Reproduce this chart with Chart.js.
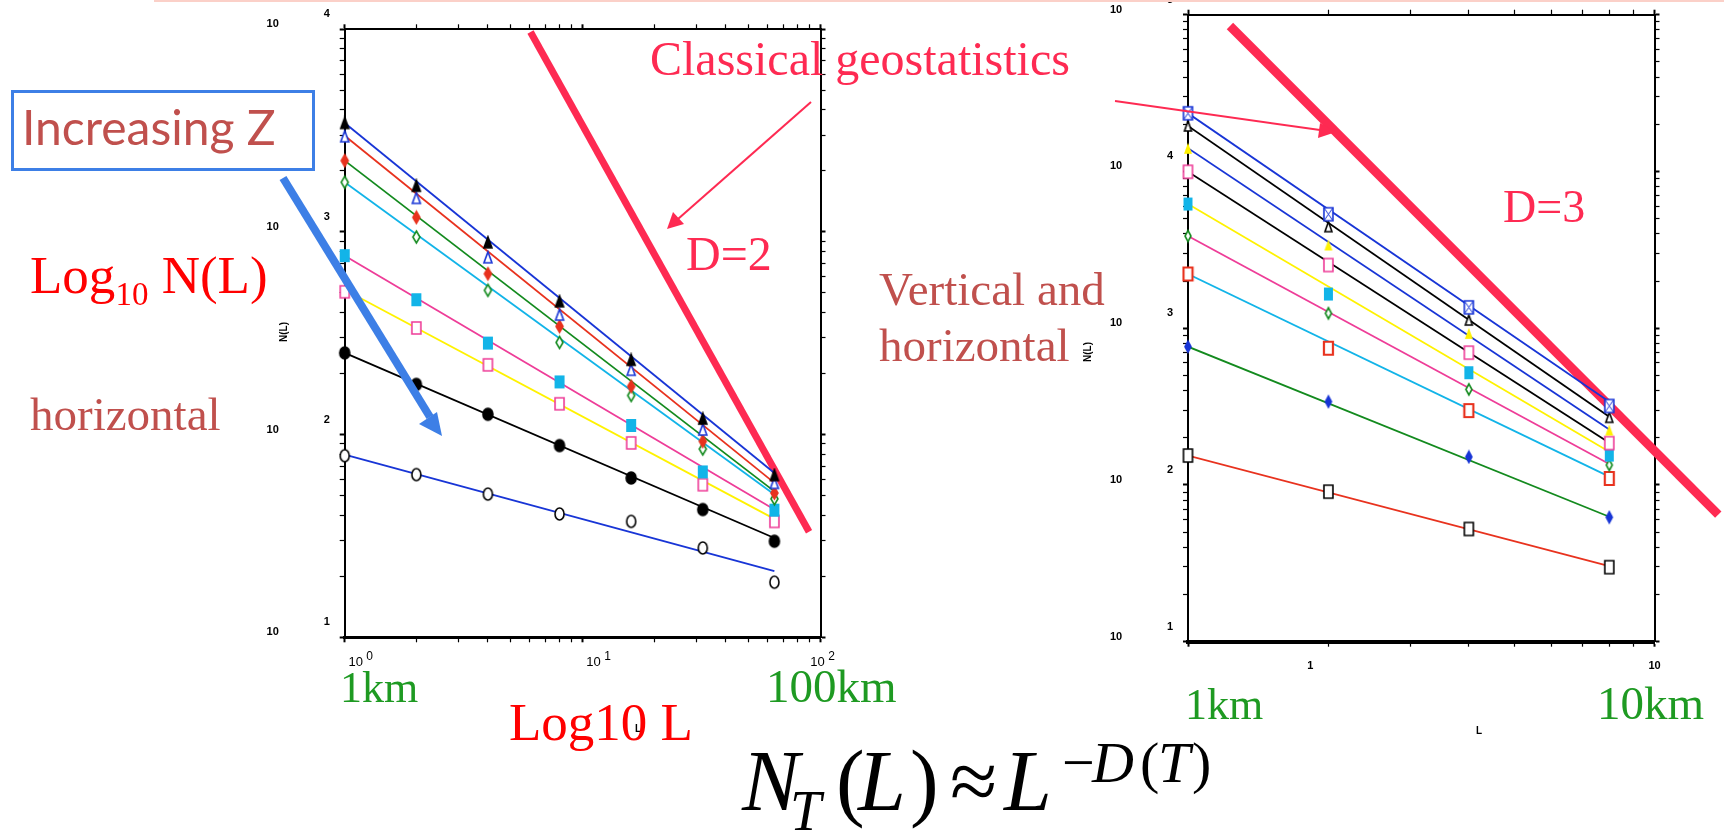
<!DOCTYPE html>
<html>
<head>
<meta charset="utf-8">
<script src="https://cdn.jsdelivr.net/npm/chart.js@4"></script>
<style>
	body { margin: 0; background: #fff; }
	#page { position: relative; width: 1724px; height: 831px; overflow: hidden; }
	canvas, svg { position: absolute; left: 0; top: 0; }
	svg text { font-family: "Liberation Serif", serif; }
</style>
</head>
<body>
<div id="page">
	<canvas id="hChart" width="1724" height="831"></canvas>
	<canvas id="vChart" width="1724" height="831"></canvas>
	<svg width="1724" height="831" viewBox="0 0 1724 831">
		<rect x="154" y="0" width="1570" height="2" fill="#fbd0c8"/>

		<!-- left annotations -->
		<rect x="12.5" y="91.5" width="301" height="78" fill="none" stroke="#3d7fe6" stroke-width="3"/>
		<text x="22" y="145" font-size="48" fill="#c0504d" style="font-family:Lato,sans-serif">Increasing Z</text>
		<line x1="283" y1="178" x2="430" y2="417" stroke="#3d7fe6" stroke-width="8"/>
		<polygon points="442,436 419,424 437,412" fill="#3d7fe6"/>
		<text x="30" y="293" font-size="53" fill="#ff0000">Log<tspan font-size="33" dy="12">10</tspan><tspan dy="-12"> N(L)</tspan></text>
		<text x="30" y="430" font-size="47" fill="#c0504d">horizontal</text>

		<text x="650" y="75" font-size="48" fill="#fe2a52">Classical geostatistics</text>
		<line x1="811" y1="102" x2="678" y2="219" stroke="#fe2a52" stroke-width="2"/>
		<polygon points="667,229 673,212 684,224" fill="#fe2a52"/>
		<text x="686" y="270" font-size="48" fill="#fe2a52">D=2</text>

		<text x="879" y="305" font-size="47" fill="#c0504d">Vertical and</text>
		<text x="879" y="361" font-size="47" fill="#c0504d">horizontal</text>

		<line x1="1115" y1="101" x2="1320" y2="130" stroke="#fe2a52" stroke-width="2"/>
		<polygon points="1336,132 1318,138 1320,123" fill="#fe2a52"/>
		<text x="1503" y="222" font-size="46" fill="#fe2a52">D=3</text>

		<!-- axis titles -->
		<text x="287" y="332" font-size="10" font-weight="bold" text-anchor="middle" transform="rotate(-90 287 332)" style="font-family:'Liberation Sans',sans-serif">N(L)</text>
		<text x="1091" y="352" font-size="10" font-weight="bold" text-anchor="middle" transform="rotate(-90 1091 352)" style="font-family:'Liberation Sans',sans-serif">N(L)</text>
		<text x="638" y="732" font-size="10" font-weight="bold" text-anchor="middle" style="font-family:'Liberation Sans',sans-serif">L</text>
		<text x="1479" y="734" font-size="10" font-weight="bold" text-anchor="middle" style="font-family:'Liberation Sans',sans-serif">L</text>

		<!-- scale words -->
		<text x="340" y="702" font-size="44" fill="#1e9a22">1km</text>
		<text x="766" y="702" font-size="47" fill="#1e9a22">100km</text>
		<text x="1185" y="719" font-size="44" fill="#1e9a22">1km</text>
		<text x="1597" y="719" font-size="47" fill="#1e9a22">10km</text>
		<text x="509" y="740" font-size="53" fill="#ff0000">Log10 L</text>

		<!-- formula -->
		<text y="810" font-size="86" fill="#000">
			<tspan x="742" font-style="italic">N</tspan>
			<tspan x="790" y="830" font-size="56" font-style="italic">T</tspan>
			<tspan x="836" y="810">(</tspan>
			<tspan x="858" font-style="italic">L</tspan>
			<tspan x="910">)</tspan>
			<tspan x="950">≈</tspan>
			<tspan x="1004" font-style="italic">L</tspan>
			<tspan x="1062" y="782" font-size="58">−</tspan>
			<tspan x="1092" font-size="58" font-style="italic">D</tspan>
			<tspan x="1140" font-size="58">(</tspan>
			<tspan x="1158" font-size="58" font-style="italic">T</tspan>
			<tspan x="1192" font-size="58">)</tspan>
		</text>
	</svg>
</div>

<script>
// ---- horizontal panel (left) ----
const lagH = [1, 2, 4, 8, 16, 32, 64]
const hTriBlack = [3451, 1690, 889, 455, 234, 120, 63.2]
const hTriBlue = [2965, 1472, 750, 391, 209, 106, 57.8]
const hDiaRed = [2249, 1180, 622, 342, 173, 92.7, 51.5]
const hDiaGreen = [1758, 944, 515, 285, 156, 84.9, 48.2]
const hSqCyan = [764, 463, 283, 182, 111, 65.5, 42.4]
const hSqPink = [507, 336, 221, 142, 91, 56.6, 37.3]
const hDotBlack = [253, 177, 126, 88.3, 61.1, 42.7, 29.8]
const hRing = [78.7, 63.5, 50.9, 40.6, 37.3, 27.6, 18.7]
const hFitStart = [3451, 2985, 2249, 1758, 764, 519, 253, 79.6]
const hFitEnd = [64.7, 57.8, 52.5, 50.6, 42.7, 38.4, 30.9, 21.2]
const d2L = [6.04, 89.5]
const d2N = [9700, 33.2]
const hExpY = [1, 2, 3, 4]
const hExpX = [0, 1, 2]

// ---- vertical and horizontal panel (right) ----
const lagV = [1, 2, 4, 8]
const vBoxBlue = [23500, 5333, 1358, 319]
const vTriBlack = [19500, 4446, 1127, 270]
const vTriYellow = [14060, 3396, 927, 224]
const vSqPink = [9954, 2529, 698, 185]
const vSqCyan = [6194, 1652, 520, 155]
const vDiaGreen = [3873, 1245, 407, 134]
const vSqRed = [2218, 745, 298, 110]
const vDiaBlue = [762, 340, 151, 62.2]
const vSqBlack = [154, 90.6, 52.4, 29.9]
const vFitStart = [23500, 19500, 14060, 9954, 6194, 3873, 2218, 762, 154]
const vFitEnd = [340, 272, 226, 186, 163, 136, 113, 62.7, 30.4]
const d3L = [1.23, 13.7]
const d3N = [84700, 64.7]
const vExpY = [1, 2, 3, 4, 5]
const vTickX = [{ v: 1.83, t: "1" }, { v: 10, t: "10" }]

const blue = "#1835d6", red = "#e8321e", green = "#138a1e", cyan = "#12b4e8"
const pink = "#ee3d98", yellow = "#fff200", black = "#000", hot = "#fe2a52"

function marker(shape, fill, stroke, w, h, lw) {
	const c = document.createElement("canvas")
	c.width = w + 4
	c.height = h + 4
	const g = c.getContext("2d")
	g.translate(c.width / 2, c.height / 2)
	g.lineWidth = lw || 1.6
	g.beginPath()
	if (shape === "circle") g.ellipse(0, 0, w / 2, h / 2, 0, 0, Math.PI * 2)
	else if (shape === "square" || shape === "boxx") g.rect(-w / 2, -h / 2, w, h)
	else if (shape === "triangle") { g.moveTo(0, -h / 2); g.lineTo(w / 2, h / 2); g.lineTo(-w / 2, h / 2); g.closePath() }
	else if (shape === "diamond") { g.moveTo(0, -h / 2); g.lineTo(w / 2, 0); g.lineTo(0, h / 2); g.lineTo(-w / 2, 0); g.closePath() }
	if (fill) { g.fillStyle = fill; g.fill() }
	if (stroke) { g.strokeStyle = stroke; g.stroke() }
	if (shape === "boxx") {
		g.beginPath()
		g.moveTo(-w / 2, -h / 2); g.lineTo(w / 2, h / 2)
		g.moveTo(w / 2, -h / 2); g.lineTo(-w / 2, h / 2)
		g.lineWidth = 1
		g.stroke()
	}
	return c
}

function logTicks(min, max) {
	const out = []
	for (let e = Math.round(Math.log10(min)); e < Math.round(Math.log10(max)); e++)
		for (let k = 1; k < 10; k++) out.push({ value: k * Math.pow(10, e), major: k === 1 })
	out.push({ value: max, major: true })
	return out
}

function logAxis(position, min, max, borderWidth) {
	return {
		type: "logarithmic",
		position: position,
		min: min,
		max: max,
		ticks: { display: false },
		grid: {
			drawOnChartArea: false,
			drawTicks: true,
			tickLength: 5,
			tickColor: "#000",
			tickWidth: c => (c.tick && c.tick.major ? 2 : 1.2)
		},
		border: { display: true, color: "#000", width: borderWidth || 2 },
		afterBuildTicks: s => { s.ticks = logTicks(min, max) },
		afterFit: s => { if (s.isHorizontal()) s.height = 0; else s.width = 0 }
	}
}

function buildDatasets(lags, series, markers, fitStart, fitEnd, fitColors, refL, refN, refWidth) {
	const ds = []
	series.forEach((s, i) => ds.push({
		data: lags.map((l, j) => ({ x: l, y: s[j] })),
		pointStyle: markers[i],
		pointRadius: 5,
		showLine: false,
		clip: false,
		order: 0
	}))
	fitStart.forEach((v, i) => ds.push({
		data: [{ x: lags[0], y: v }, { x: lags[lags.length - 1], y: fitEnd[i] }],
		borderColor: fitColors[i],
		borderWidth: 1.8,
		pointRadius: 0,
		showLine: true,
		order: 1
	}))
	ds.push({
		data: refL.map((l, i) => ({ x: l, y: refN[i] })),
		borderColor: hot,
		borderWidth: refWidth,
		borderCapStyle: "butt",
		pointRadius: 0,
		showLine: true,
		clip: false,
		order: 2
	})
	return ds
}

// tick labels drawn by hand: the source puts the exponent far from the "10"
const tickText = {
	id: "tickText",
	afterDraw(chart, args, opts) {
		const ctx = chart.ctx
		const area = chart.chartArea
		const ys = chart.scales.y, xs = chart.scales.x
		ctx.save()
		ctx.fillStyle = "#000"
		ctx.textAlign = "center"
		ctx.font = "bold 11px 'Liberation Sans'"
		opts.yExp.forEach(e => {
			const py = ys.getPixelForValue(Math.pow(10, e))
			ctx.fillText("10", area.left - 72, py - 2)
			ctx.fillText(String(e), area.left - 18, py - 12)
		})
		ctx.font = "13px 'Liberation Sans'"
		if (opts.xExp) opts.xExp.forEach(e => {
			const px = Math.min(xs.getPixelForValue(Math.pow(10, e)) + 16, area.right + 2)
			ctx.fillText("10", px - 5, 666)
			ctx.font = "12px 'Liberation Sans'"
			ctx.fillText(String(e), px + 9, 660)
			ctx.font = "13px 'Liberation Sans'"
		})
		ctx.font = "bold 11px 'Liberation Sans'"
		if (opts.xPlain) opts.xPlain.forEach(t => {
			ctx.fillText(t.t, xs.getPixelForValue(t.v), 669)
		})
		ctx.restore()
	}
}

function Options(pad, xr, yr, bottomWidth, labels) {
	this.responsive = false
	this.animation = false
	this.events = []
	this.layout = { padding: pad }
	this.scales = {
		x: logAxis("bottom", xr[0], xr[1], bottomWidth),
		x2: logAxis("top", xr[0], xr[1]),
		y: logAxis("left", yr[0], yr[1]),
		y2: logAxis("right", yr[0], yr[1])
	}
	this.plugins = {
		legend: { display: false },
		tooltip: { enabled: false },
		tickText: labels
	}
}

const hMarkers = [
	marker("triangle", black, black, 8, 11),
	marker("triangle", "#fff", blue, 8, 11),
	marker("diamond", red, red, 7, 12),
	marker("diamond", "#fff", green, 7, 12),
	marker("square", cyan, null, 10, 13),
	marker("square", "#fff", pink, 9, 12),
	marker("circle", black, black, 10, 12),
	marker("circle", "#fff", black, 9, 12)
]

const vMarkers = [
	marker("boxx", "#fff", blue, 9, 13),
	marker("triangle", "#fff", black, 7, 10),
	marker("triangle", yellow, null, 8, 11),
	marker("square", "#fff", pink, 9, 13),
	marker("square", cyan, null, 9, 13),
	marker("diamond", "#fff", green, 6, 11),
	marker("square", "#fff", red, 9, 13, 2.2),
	marker("diamond", blue, blue, 6, 11),
	marker("square", "#fff", black, 9, 13)
]

const hChart = new Chart(
	document.getElementById("hChart"),
	{
		type: "scatter",
		data: {
			datasets: buildDatasets(lagH,
				[hTriBlack, hTriBlue, hDiaRed, hDiaGreen, hSqCyan, hSqPink, hDotBlack, hRing],
				hMarkers, hFitStart, hFitEnd,
				[blue, red, green, cyan, pink, yellow, black, blue],
				d2L, d2N, 7)
		},
		options: new Options({ left: 344.7, top: 29.3, right: 903.5, bottom: 193.7 }, [1, 100], [10, 10000], 3,
			{ yExp: hExpY, xExp: hExpX }),
		plugins: [tickText]
	}
)

const vChart = new Chart(
	document.getElementById("vChart"),
	{
		type: "scatter",
		data: {
			datasets: buildDatasets(lagV,
				[vBoxBlue, vTriBlack, vTriYellow, vSqPink, vSqCyan, vDiaGreen, vSqRed, vDiaBlue, vSqBlack],
				vMarkers, vFitStart, vFitEnd,
				[blue, black, blue, black, yellow, pink, cyan, green, red],
				d3L, d3N, 9)
		},
		options: new Options({ left: 1188, top: 14.7, right: 69.5, bottom: 189.3 }, [1, 10], [10, 100000], 4,
			{ yExp: vExpY, xPlain: vTickX }),
		plugins: [tickText]
	}
)
</script>
</body>
</html>
